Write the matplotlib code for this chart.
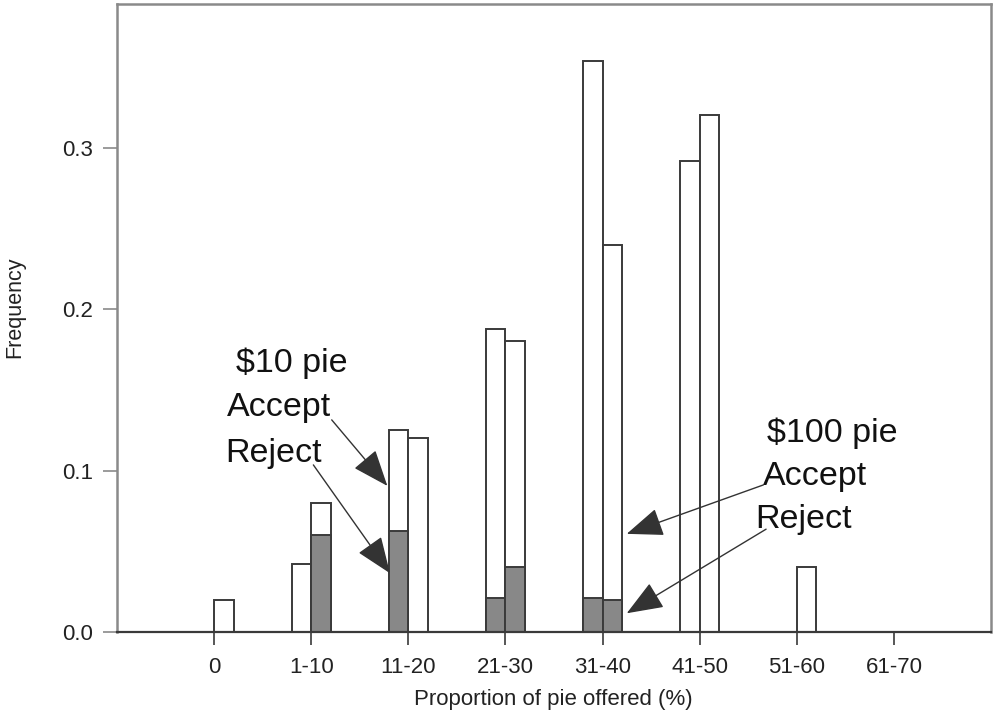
import matplotlib
matplotlib.use("Agg")
import matplotlib.pyplot as plt
import numpy as np

plt.rcParams["font.family"] = ["Liberation Sans", "DejaVu Sans"]

# Offer categories (percentage of pie offered)
categories = ["0", "1-10", "11-20", "21-30", "31-40", "41-50", "51-60", "61-70"]

# Frequency of offers in each category (bar height) and share that was rejected
offer_10 = [0.0, 0.042, 0.125, 0.1875, 0.354, 0.292, 0.0, 0.0]
reject_10 = [0.0, 0.0, 0.0625, 0.021, 0.021, 0.0, 0.0, 0.0]
offer_100 = [0.02, 0.080, 0.120, 0.180, 0.240, 0.320, 0.040, 0.0]
reject_100 = [0.0, 0.060, 0.0, 0.040, 0.020, 0.0, 0.0, 0.0]

y_ticks = [0.0, 0.1, 0.2, 0.3]

edge = "#3a3a3a"
grey = "#888888"
frame = "#8a8a8a"

fig = plt.figure(figsize=(9.93, 7.15), dpi=100)
ax = fig.add_axes([117 / 993, 1 - 632 / 715, (991 - 117) / 993, (632 - 4) / 715])

x = np.arange(len(categories))
w = 0.2

# $10 pie bars sit left of the tick, $100 pie bars right of it
ax.bar(x - w, offer_10, width=w, align="edge", color="white", edgecolor=edge, linewidth=1.4, zorder=2)
ax.bar(x - w, reject_10, width=w, align="edge", color=grey, edgecolor=edge, linewidth=1.4, zorder=3)
ax.bar(x, offer_100, width=w, align="edge", color="white", edgecolor=edge, linewidth=1.4, zorder=2)
ax.bar(x, reject_100, width=w, align="edge", color=grey, edgecolor=edge, linewidth=1.4, zorder=3)

ax.set_xlim(-1, 8)
ax.set_ylim(0, 0.389)

ax.set_xticks(x)
ax.set_xticklabels(categories)
ax.set_yticks(y_ticks)
ax.set_yticklabels([f"{v:.1f}" for v in y_ticks])

ax.tick_params(axis="x", length=9, width=1.2, color=edge, pad=9, labelsize=16, labelcolor="#222222")
ax.tick_params(axis="y", length=10, width=1.2, color=frame, pad=7, labelsize=16, labelcolor="#222222")

for side in ["left", "top", "right"]:
    ax.spines[side].set_color(frame)
    ax.spines[side].set_linewidth(1.8)
ax.spines["bottom"].set_color(edge)
ax.spines["bottom"].set_linewidth(1.6)
ax.spines["bottom"].set_zorder(4)

fig.text(553 / 993, 1 - 700 / 715, "Proportion of pie offered (%)", ha="center", va="center",
         fontsize=16, color="#222222")
fig.text(15 / 993, 1 - 307 / 715, "Frequency", ha="center", va="center", rotation=90,
         fontsize=15.5, color="#222222")

# Annotation labels
label_fs = 24.5
txt_kw = dict(ha="left", va="baseline", fontsize=label_fs, color="#111111", zorder=6)
ax.text(0.2255, 0.1612, "$10 pie", **txt_kw)
ax.text(0.1297, 0.1335, "Accept", **txt_kw)
ax.text(0.1123, 0.1056, "Reject", **txt_kw)
ax.text(5.691, 0.118, "$100 pie", **txt_kw)
ax.text(5.653, 0.0911, "Accept", **txt_kw)
ax.text(5.571, 0.0645, "Reject", **txt_kw)

arrow_kw = dict(arrowstyle="-|>,head_length=1.15,head_width=0.45", mutation_scale=20,
                color="#333333", lw=1.0, shrinkA=0, shrinkB=0)
arrows = [
    ((1.211, 0.1314), (1.784, 0.0905)),
    ((1.022, 0.1035), (1.811, 0.0364)),
    ((5.656, 0.0911), (4.249, 0.0608)),
    ((5.684, 0.0637), (4.249, 0.0116)),
]
for tail, tip in arrows:
    ax.annotate("", xy=tip, xytext=tail, arrowprops=arrow_kw, zorder=6)

fig.savefig("out.png", dpi=100)
